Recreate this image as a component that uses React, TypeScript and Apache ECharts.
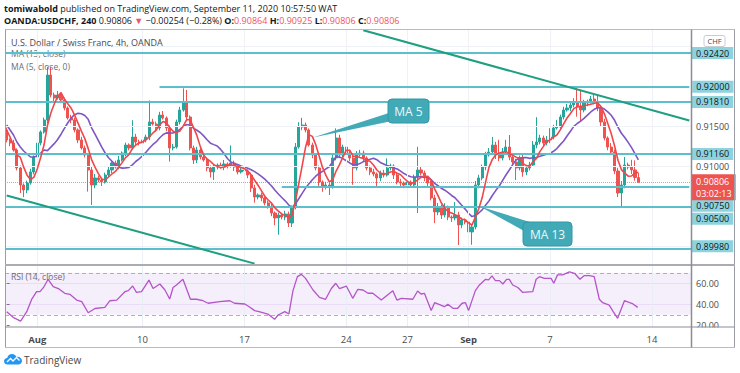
import React, { useEffect, useRef } from 'react';
import * as echarts from 'echarts';

const FONT = "'Open Sans', 'Noto Sans', sans-serif";

const barSlots = 202;
const firstOpen = 0.91459;
const closes = [
  0.91334, 0.91296, 0.91209, 0.90984, 0.90771, 0.90709, 0.90796, 0.90934, 0.91121, 0.91296,
  0.91434, 0.91584, 0.92146, 0.91896, 0.91859, 0.91896, 0.91834, 0.91734, 0.91609, 0.91584,
  0.91459, 0.91334, 0.91234, 0.91146, 0.90959, 0.90771, 0.90859, 0.90834, 0.90809, 0.90896,
  0.90959, 0.91046, 0.90996, 0.91084, 0.91171, 0.91271, 0.91234, 0.91371, 0.91309, 0.91296,
  0.91334, 0.91371, 0.91559, 0.91534, 0.91484, 0.91646, 0.91609, 0.91484, 0.91234, 0.91246,
  0.91559, 0.91709, 0.91809, 0.91621, 0.91234, 0.91084, 0.91209, 0.91121, 0.91084, 0.90984,
  0.90934, 0.90996, 0.91021, 0.90996, 0.91034, 0.91009, 0.91046, 0.90996, 0.90934, 0.90959,
  0.90946, 0.90896, 0.90734, 0.90621, 0.90646, 0.90609, 0.90546, 0.90496, 0.90421, 0.90359,
  0.90396, 0.90371, 0.90409, 0.90296, 0.90496, 0.91246, 0.91496, 0.91521, 0.91459, 0.91271,
  0.91146, 0.90984, 0.90809, 0.90746, 0.90771, 0.90746, 0.91109, 0.91359, 0.91146, 0.91246,
  0.91171, 0.91109, 0.90984, 0.91146, 0.91171, 0.91109, 0.90984, 0.90934, 0.90909, 0.90859,
  0.90921, 0.90896, 0.90984, 0.91009, 0.90896, 0.90809, 0.90796, 0.90771, 0.90809, 0.90771,
  0.90871, 0.90959, 0.90921, 0.90859, 0.90796, 0.90609, 0.90434, 0.90496, 0.90396, 0.90484,
  0.90371, 0.90359, 0.90396, 0.90271, 0.90334, 0.90309, 0.90184, 0.90246, 0.90771, 0.90859,
  0.90996, 0.91146, 0.91184, 0.91271, 0.91146, 0.91109, 0.91184, 0.91246, 0.91121, 0.91059,
  0.90984, 0.91109, 0.90934, 0.90984, 0.91021, 0.91271, 0.91309, 0.91359, 0.91296, 0.91334,
  0.91371, 0.91484, 0.91496, 0.91621, 0.91709, 0.91734, 0.91771, 0.91796, 0.91746, 0.91709,
  0.91796, 0.91809, 0.91846, 0.91809, 0.91734, 0.91559, 0.91359, 0.91246, 0.91184, 0.90946,
  0.90671, 0.90771, 0.91021, 0.90996, 0.90959, 0.90864, 0.90806,
];
// wick lengths beyond the candle body, in pips (0.0001)
const hiWickPips = [
  3, 2, 4, 2, 3, 2, 3, 4, 2, 3,
  2, 3, 10, 10, 3, 5, 2, 3, 2, 4,
  3, 2, 4, 3, 2, 4, 5, 3, 2, 3,
  4, 2, 3, 5, 2, 3, 2, 21, 4, 3,
  2, 3, 27, 4, 3, 4, 5, 2, 3, 4,
  3, 4, 17, 15, 2, 3, 4, 2, 3, 2,
  3, 4, 2, 3, 5, 2, 22, 3, 2, 4,
  3, 2, 3, 4, 2, 3, 2, 3, 4, 2,
  3, 2, 4, 3, 2, 5, 6, 9, 3, 2,
  3, 2, 3, 2, 4, 3, 5, 12, 4, 3,
  2, 4, 3, 5, 4, 3, 2, 3, 4, 2,
  3, 4, 12, 3, 2, 3, 4, 2, 3, 2,
  3, 29, 4, 3, 2, 3, 4, 5, 3, 6,
  3, 2, 16, 4, 3, 2, 4, 3, 5, 4,
  3, 4, 5, 10, 4, 19, 5, 9, 15, 3,
  4, 3, 5, 2, 4, 5, 31, 4, 3, 5,
  11, 4, 9, 3, 4, 5, 3, 6, 20, 21,
  4, 3, 4, 5, 9, 3, 4, 2, 5, 3,
  4, 5, 10, 3, 9, 12, 6,
];
const loWickPips = [
  3, 4, 2, 3, 10, 9, 4, 2, 3, 2,
  3, 2, 4, 3, 5, 2, 4, 3, 2, 4,
  3, 4, 2, 3, 27, 25, 4, 3, 5, 2,
  3, 4, 2, 3, 2, 4, 3, 2, 4, 3,
  2, 3, 4, 2, 5, 3, 2, 4, 17, 3,
  2, 3, 2, 4, 3, 5, 4, 3, 2, 4,
  7, 10, 3, 2, 4, 3, 2, 5, 3, 2,
  3, 4, 5, 7, 3, 4, 3, 2, 4, 9,
  21, 3, 4, 5, 5, 3, 2, 4, 3, 2,
  4, 3, 5, 6, 3, 10, 2, 3, 4, 3,
  3, 4, 21, 3, 2, 4, 3, 4, 3, 11,
  4, 3, 2, 3, 5, 3, 5, 4, 3, 2,
  3, 45, 3, 4, 5, 3, 14, 4, 5, 3,
  4, 5, 3, 25, 4, 3, 4, 16, 3, 4,
  3, 4, 2, 3, 5, 4, 3, 2, 4, 3,
  15, 3, 6, 4, 3, 2, 4, 3, 5, 3,
  4, 3, 2, 4, 3, 2, 4, 3, 12, 15,
  3, 4, 2, 3, 4, 5, 3, 4, 3, 4,
  5, 17, 4, 3, 5, 4, 0,
];
// moving-average values before enough bars are visible
const ma5Head = [0.91459, 0.91371, 0.91271, 0.91146];
const ma13Head = [0.91521, 0.91459, 0.91396, 0.91309, 0.91246, 0.91196, 0.91159, 0.91121, 0.91121, 0.91134, 0.91171, 0.91209];

// RSI (14): [bar position, value]
const rsiPoints: [number, number][] = [
  [0, 33], [1.9, 27.6], [4.1, 24], [5.9, 33], [7.4, 45], [8.8, 52], [9.8, 52], [10.8, 55.8], [12.2, 63.8], [13.7, 56.8],
  [15.2, 55], [17.1, 50.5], [18.6, 49.5], [20.6, 44], [22.1, 42.5], [24, 32], [26, 36], [28.9, 37], [30.4, 43.4], [32.4, 44],
  [34.8, 52], [35.8, 53], [37.1, 57.4], [38.2, 51.4], [39.7, 52], [41.9, 63], [43.1, 55], [45.1, 59.3], [46.6, 53.6], [48, 45],
  [49, 56], [50, 58.4], [51.9, 63.8], [54.1, 44.8], [55.9, 44.8], [57.8, 43.4], [59.3, 41], [62.7, 42.5], [65.7, 43.4], [67.1, 41],
  [70.1, 40.3], [71.4, 37.7], [73, 34], [74.3, 33], [76.9, 30.7], [78.9, 25.7], [79.9, 29.8], [81.9, 33], [83.1, 30.8], [84.3, 53],
  [85.6, 66.3], [86.8, 68.5], [88, 64.7], [90.2, 53.6], [92.1, 46.6], [93.9, 44.8], [95.6, 55], [96.9, 60], [98, 55], [100, 57.4],
  [101.9, 45.7], [103.4, 54.3], [104.9, 53.6], [106.4, 50.5], [107.8, 50.5], [110.3, 44], [113.7, 53], [114.9, 44], [116.2, 45.7], [119.6, 44.8],
  [121, 52.7], [122, 49.8], [123, 50.5], [125, 34], [126, 41.5], [128.9, 37.7], [129.9, 40], [131.4, 36.2], [132.8, 36.2], [134.1, 41],
  [135.1, 41.5], [136, 34], [138, 53], [139.2, 58.4], [141, 63.8], [141.9, 63.3], [142.9, 67], [143.9, 62.5], [145.1, 62.5], [146.1, 59.3],
  [147.2, 63.8], [148, 63.8], [149, 58.4], [150.5, 56], [151.9, 51.4], [154.9, 52], [155.9, 63.8], [156.9, 66.3], [158.3, 64.7], [160.3, 64.7],
  [161.1, 60], [162.2, 68], [163.7, 68], [164.7, 69.5], [165.7, 70.8], [167.2, 69.5], [168.8, 63.8], [170.1, 67.3], [171.6, 67.3], [173, 66.3],
  [174.5, 44.8], [175.5, 41.5], [177.4, 39.3], [178.6, 33], [179.9, 26.7], [181.9, 43.4], [183.4, 41.5], [184.3, 40.6], [185.8, 37.1],
];

const tickIdx = [9, 40, 70, 100, 118, 136, 160, 190];
const tickText = ['Aug', '10', '17', '24', '27', 'Sep', '7', '14'];
const boldTicks = ['Aug', 'Sep'];

const levels = [0.9242, 0.92, 0.9181, 0.9116, 0.9075, 0.905, 0.8998];
const levelStart: Record<string, number> = { '0.92': 45, '0.9075': 81 };
const levelLabelShift: Record<string, number> = { '0.9075': 19, '0.905': 12, '0.8998': -2 };
const plainPriceTicks = [0.915, 0.91];
const faintGrid = [0.925, 0.915, 0.91, 0.9];
const lastPrice = 0.90806;
const countdown = '03:02:13';
const upperTrend: [number, number][] = [[105, 0.92705], [201, 0.91578]];
const lowerTrend: [number, number][] = [[0, 0.9064], [73, 0.89788]];

const priceMin = 0.89771;
const priceMax = 0.92709;
const rsiMin = 18.4;
const rsiMax = 77.4;

function sma(n: number, head: number[]) {
  return closes.map((_, i) => {
    if (i < head.length) return head[i];
    let s = 0;
    for (let k = i - n + 1; k <= i; k++) s += closes[k];
    return +(s / n).toFixed(5);
  });
}

const LOGO_D =
  'M5 14 C2 14 0 12 0 9.5 C0 7 2 5.2 4.3 5.2 C5 2.2 7.6 0 10.7 0 C13.3 0 15.6 1.6 16.5 4 C17 3.9 17.5 3.8 18 3.8 C21.3 3.8 24 6.4 24 9.4 C24 12 21.8 14 19 14 Z';

export default function App() {
  const ref = useRef<HTMLDivElement>(null);
  useEffect(() => {
    const el = ref.current;
    if (!el) return;
    echarts.graphic.registerShape('tvlogo', (echarts.graphic as any).extendPath(LOGO_D, {}));
    const chart = echarts.init(el, null, { renderer: 'svg' });

    const cats = Array.from({ length: barSlots }, (_, i) => String(i));
    const candles = closes.map((c, i) => {
      const o = i === 0 ? firstOpen : closes[i - 1];
      const hi = Math.max(o, c) + hiWickPips[i] * 0.0001;
      const lo = Math.min(o, c) - loWickPips[i] * 0.0001;
      return [o, c, +lo.toFixed(5), +hi.toFixed(5)];
    });
    const ma5 = sma(5, ma5Head);
    const ma13 = sma(13, ma13Head);

    const tealLine = { color: '#5dbfcc', width: 2, type: 'solid' };
    const levelLines: any[] = levels.map((v) => {
      const key = String(v);
      const label = {
        show: true,
        position: 'end',
        distance: levelStart[key] !== undefined ? 3 : 1,
        formatter: v.toFixed(5),
        backgroundColor: '#8dd3de',
        color: '#131722',
        fontSize: 9,
        fontFamily: FONT,
        padding: [2, 4, 1, 4],
        offset: [0, levelLabelShift[key] || 0],
      };
      if (levelStart[key] !== undefined) {
        return [
          { coord: [levelStart[key], v], lineStyle: tealLine, label },
          { coord: [barSlots - 1, v] },
        ];
      }
      return { yAxis: v, lineStyle: tealLine, label };
    });
    const gridLines: any[] = [
      ...faintGrid.map((v) => ({
        yAxis: v,
        lineStyle: { color: '#eef2f6', width: 1, type: 'solid' },
        label: plainPriceTicks.includes(v)
          ? { show: true, position: 'end', distance: 5, formatter: v.toFixed(5), color: '#4a4a4a', fontSize: 9, fontFamily: FONT }
          : { show: false },
      })),
      ...tickIdx.map((t) => ({ xAxis: t, lineStyle: { color: '#eef2f6', width: 1, type: 'solid' }, label: { show: false } })),
    ];
    const trendStyle = { color: '#1f9e80', width: 2, type: 'solid' };

    const graphicEls: any[] = [
      {
        type: 'text', x: 4, y: 8, z: 50,
        style: {
          text: '{b|tomiwabold} published on TradingView.com, September 11, 2020 10:57:50 WAT',
          fontSize: 9, fontFamily: FONT, fill: '#131722', verticalAlign: 'middle',
          rich: { b: { fontWeight: 'bold', fontSize: 9, fontFamily: FONT, fill: '#131722' } },
        },
      },
      {
        type: 'text', x: 4, y: 20.5, z: 50,
        style: {
          text: '{b|OANDA:USDCHF, 240} 0.90806 {r|▼} −0.00254 (−0.28%) {b|O:}{r|0.90864} {b|H:}{r|0.90925} {b|L:}{r|0.90806} {b|C:}{r|0.90806}',
          fontSize: 9, fontFamily: FONT, fill: '#131722', verticalAlign: 'middle',
          rich: {
            b: { fontWeight: 'bold', fontSize: 9, fontFamily: FONT, fill: '#131722' },
            r: { fontSize: 9, fontFamily: FONT, fill: '#f0535f' },
          },
        },
      },
      { type: 'text', x: 11, y: 42, z: 50, style: { text: 'U.S. Dollar / Swiss Franc, 4h, OANDA', fontSize: 9, fontFamily: FONT, fill: '#4a4a4a', verticalAlign: 'middle' } },
      { type: 'text', x: 11, y: 53.5, z: 1, style: { text: 'MA (13, close)', fontSize: 8.5, fontFamily: FONT, fill: '#6a6d78', verticalAlign: 'middle' } },
      { type: 'text', x: 11, y: 66, z: 50, style: { text: 'MA (5, close, 0)', fontSize: 8.5, fontFamily: FONT, fill: '#6a6d78', verticalAlign: 'middle' } },
      { type: 'text', x: 11, y: 276.5, z: 50, style: { text: 'RSI (14, close)', fontSize: 8.5, fontFamily: FONT, fill: '#6a6d78', verticalAlign: 'middle' } },
      // frame
      { type: 'rect', z: 70, shape: { x: 692, y: 327.6, width: 42.5, height: 19 }, style: { fill: '#fff' } },
      { type: 'line', z: 80, shape: { x1: 5, y1: 29.5, x2: 735, y2: 29.5 }, style: { stroke: '#b8bbc3', lineWidth: 1 } },
      { type: 'line', z: 80, shape: { x1: 5.5, y1: 29.5, x2: 5.5, y2: 347.5 }, style: { stroke: '#9a9da6', lineWidth: 1 } },
      { type: 'line', z: 80, shape: { x1: 734.5, y1: 29.5, x2: 734.5, y2: 347.5 }, style: { stroke: '#9a9da6', lineWidth: 1 } },
      { type: 'line', z: 80, shape: { x1: 5, y1: 347.5, x2: 735, y2: 347.5 }, style: { stroke: '#b8bbc3', lineWidth: 1 } },
      { type: 'line', z: 80, shape: { x1: 5, y1: 265, x2: 735, y2: 265 }, style: { stroke: '#a9acb4', lineWidth: 2 } },
      { type: 'line', z: 80, shape: { x1: 5, y1: 327, x2: 735, y2: 327 }, style: { stroke: '#8a8d96', lineWidth: 1 } },
      { type: 'line', z: 80, shape: { x1: 691.5, y1: 29.5, x2: 691.5, y2: 347.5 }, style: { stroke: '#8a8d96', lineWidth: 1.5 } },
      // CHF button
      { type: 'rect', z: 81, shape: { x: 704, y: 35.5, width: 21, height: 11, r: 2 }, style: { fill: '#fff', stroke: '#c9ccd3', lineWidth: 1 } },
      { type: 'text', z: 82, x: 714.5, y: 41, style: { text: 'CHF', fontSize: 7.5, fontFamily: FONT, fill: '#4a4a4a', align: 'center', verticalAlign: 'middle' } },
      // MA 5 callout
      { type: 'polygon', z: 60, shape: { points: [[313, 137.5], [392, 112], [392, 121]] }, style: { fill: '#42aab7' } },
      { type: 'rect', z: 61, shape: { x: 388, y: 99, width: 41, height: 24, r: 4 }, style: { fill: '#42aab7', stroke: '#2f98a6', lineWidth: 1 } },
      { type: 'text', z: 62, x: 408.5, y: 111.5, style: { text: 'MA 5', fontSize: 12, fontFamily: FONT, fill: '#eaf8fa', align: 'center', verticalAlign: 'middle' } },
      // MA 13 callout
      { type: 'polygon', z: 60, shape: { points: [[480, 206.5], [533, 223], [524, 231]] }, style: { fill: '#42aab7' } },
      { type: 'rect', z: 61, shape: { x: 523, y: 222, width: 49, height: 24, r: 4 }, style: { fill: '#42aab7', stroke: '#2f98a6', lineWidth: 1 } },
      { type: 'text', z: 62, x: 547.5, y: 234.5, style: { text: 'MA 13', fontSize: 12, fontFamily: FONT, fill: '#eaf8fa', align: 'center', verticalAlign: 'middle' } },
      // footer logo
      { type: 'tvlogo', z: 50, x: 4, y: 354, scaleX: 0.75, scaleY: 0.75, style: { fill: '#2196f3' } },
      { type: 'polyline', z: 51, shape: { points: [[7, 362], [10.5, 358.5], [13, 361], [16.5, 357.5], [19.5, 360.5]] }, style: { stroke: '#fff', lineWidth: 1.3, fill: 'none' } },
      { type: 'text', z: 50, x: 24, y: 360, style: { text: 'TradingView', fontSize: 10, fontFamily: FONT, fill: '#4a4a4a', verticalAlign: 'middle' } },
    ];

    chart.setOption({
      animation: false,
      backgroundColor: '#ffffff',
      textStyle: { fontFamily: FONT },
      grid: [
        { left: 5, top: 30, width: 686, height: 235 },
        { left: 5, top: 265, width: 686, height: 62 },
      ],
      xAxis: [
        { type: 'category', gridIndex: 0, data: cats, boundaryGap: true, show: false },
        {
          type: 'value', gridIndex: 1, min: -0.5, max: barSlots - 0.5,
          axisLine: { show: false }, axisTick: { show: false }, splitLine: { show: false },
          axisLabel: {
            customValues: tickIdx,
            margin: 7,
            fontSize: 9.5,
            color: '#4a4a4a',
            fontFamily: FONT,
            formatter: (v: number) => {
              const k = tickIdx.indexOf(Math.round(v));
              if (k < 0) return '';
              const t = tickText[k];
              return boldTicks.includes(t) ? '{b|' + t + '}' : t;
            },
            rich: { b: { fontWeight: 'bold', fontSize: 9.5, color: '#4a4a4a', fontFamily: FONT } },
          },
        },
      ],
      yAxis: [
        { type: 'value', gridIndex: 0, min: priceMin, max: priceMax, show: false },
        {
          type: 'value', gridIndex: 1, min: rsiMin, max: rsiMax, position: 'right',
          axisLine: { show: false }, splitLine: { show: false },
          axisTick: { show: true, customValues: [20, 40, 60], length: 3, lineStyle: { color: '#787b86' } },
          axisLabel: { customValues: [20, 40, 60], formatter: (v: number) => v.toFixed(2), fontSize: 9, color: '#4a4a4a', margin: 5, fontFamily: FONT },
        },
      ],
      series: [
        {
          name: 'grid', type: 'line', xAxisIndex: 0, yAxisIndex: 0, data: [], z: 0, silent: true,
          markLine: { symbol: ['none', 'none'], silent: true, animation: false, precision: 6, data: gridLines },
        },
        {
          name: 'levels', type: 'line', xAxisIndex: 0, yAxisIndex: 0, data: [], z: 1, silent: true,
          markLine: { symbol: ['none', 'none'], silent: true, animation: false, precision: 6, data: levelLines },
        },
        {
          name: 'USDCHF', type: 'candlestick', xAxisIndex: 0, yAxisIndex: 0, data: candles, z: 3,
          barWidth: 2.6,
          itemStyle: { color: '#26a69a', color0: '#ef5350', borderColor: '#26a69a', borderColor0: '#ef5350', borderWidth: 1 },
          markLine: {
            symbol: ['none', 'none'], silent: true, animation: false, precision: 6,
            data: [
              {
                yAxis: lastPrice,
                lineStyle: { color: 'rgba(239, 83, 80, 0.65)', width: 1, type: 'dotted' },
                label: {
                  show: true, position: 'end', distance: 1,
                  formatter: lastPrice.toFixed(5) + '\n' + countdown,
                  backgroundColor: '#ef5350', color: '#ffffff', fontSize: 9, fontFamily: FONT,
                  lineHeight: 12, padding: [1, 4, 1, 4], offset: [0, 5],
                },
              },
            ],
          },
        },
        {
          name: 'MA 13', type: 'line', xAxisIndex: 0, yAxisIndex: 0, data: ma13, showSymbol: false, z: 4,
          lineStyle: { color: '#7e57c2', width: 1.6 }, silent: true,
        },
        {
          name: 'MA 5', type: 'line', xAxisIndex: 0, yAxisIndex: 0, data: ma5, showSymbol: false, z: 5,
          lineStyle: { color: '#f0474c', width: 1.6 }, silent: true,
        },
        {
          name: 'trend', type: 'line', xAxisIndex: 0, yAxisIndex: 0, data: [], z: 6, silent: true,
          markLine: {
            symbol: ['none', 'none'], silent: true, animation: false, precision: 6, label: { show: false },
            data: [
              [{ coord: upperTrend[0], lineStyle: trendStyle }, { coord: upperTrend[1] }],
              [{ coord: lowerTrend[0], lineStyle: trendStyle }, { coord: lowerTrend[1] }],
            ],
          },
        },
        {
          name: 'RSI', type: 'line', xAxisIndex: 1, yAxisIndex: 1, data: rsiPoints, showSymbol: false, z: 5,
          lineStyle: { color: '#b455c8', width: 1.3 }, silent: true,
          markArea: { silent: true, itemStyle: { color: 'rgba(156, 84, 214, 0.1)' }, data: [[{ yAxis: 30 }, { yAxis: 70 }]] },
          markLine: {
            symbol: ['none', 'none'], silent: true, animation: false, precision: 6, label: { show: false },
            data: [
              { yAxis: 70, lineStyle: { color: '#b6a9c4', width: 1, type: [4, 3] } },
              { yAxis: 30, lineStyle: { color: '#b6a9c4', width: 1, type: [4, 3] } },
              { yAxis: 60, lineStyle: { color: 'rgba(156, 84, 214, 0.12)', width: 1, type: 'solid' } },
              { yAxis: 40, lineStyle: { color: 'rgba(156, 84, 214, 0.12)', width: 1, type: 'solid' } },
              ...tickIdx.map((t) => ({ xAxis: t, lineStyle: { color: '#e8eef5', width: 1, type: 'solid' } })),
            ],
          },
        },
      ],
      graphic: graphicEls,
    });
    return () => chart.dispose();
  }, []);
  return <div ref={ref} style={{ position: 'fixed', left: 0, top: 0, width: 740, height: 373 }} />;
}
